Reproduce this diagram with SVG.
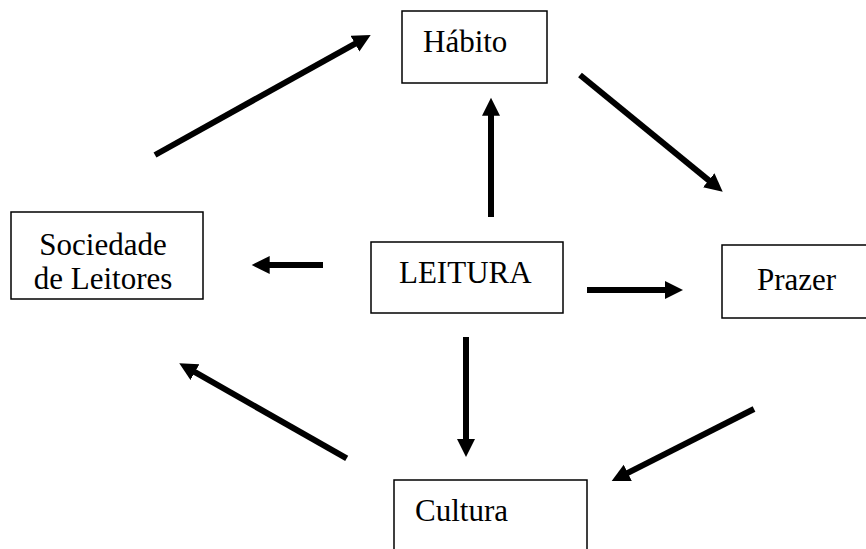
<svg xmlns="http://www.w3.org/2000/svg" width="866" height="549" viewBox="0 0 866 549">
  <style>
    .box { fill: #fff; stroke: #000; stroke-width: 1.5; }
    .lbl { font-family: 'Liberation Serif', Tinos, 'Times New Roman', 'DejaVu Serif', serif; font-size: 31px; fill: #000; }
    .arr { stroke: #000; stroke-width: 6; fill: none; marker-end: url(#head); }
  </style>
  <defs>
    <marker id="head" markerUnits="userSpaceOnUse" markerWidth="20" markerHeight="20" refX="6" refY="9" orient="auto">
      <path d="M0,0 L18,9 L0,18 z" fill="#000"/>
    </marker>
  </defs>
  <rect width="866" height="549" fill="#fff"/>

  <g id="habito">
    <rect class="box" x="402" y="11" width="145" height="72"/>
    <text class="lbl" x="423" y="52">Hábito</text>
  </g>
  <g id="sociedade">
    <rect class="box" x="11" y="212" width="192" height="87"/>
    <text class="lbl" x="103" y="255" text-anchor="middle">Sociedade</text>
    <text class="lbl" x="103" y="289" text-anchor="middle">de Leitores</text>
  </g>
  <g id="leitura">
    <rect class="box" x="371" y="242" width="192" height="71"/>
    <text class="lbl" x="399" y="283">LEITURA</text>
  </g>
  <g id="prazer">
    <rect class="box" x="722" y="245" width="160" height="73"/>
    <text class="lbl" x="757" y="290">Prazer</text>
  </g>
  <g id="cultura">
    <rect class="box" x="394" y="480" width="193" height="90"/>
    <text class="lbl" x="415" y="521">Cultura</text>
  </g>

  <g id="connectors">
    <line class="arr" x1="491" y1="217" x2="491" y2="109.7"/>
    <line class="arr" x1="323" y1="265" x2="263.7" y2="265"/>
    <line class="arr" x1="587" y1="290" x2="671" y2="290"/>
    <line class="arr" x1="466" y1="337" x2="466" y2="445"/>
    <line class="arr" x1="155" y1="155" x2="360.2" y2="40.8"/>
    <line class="arr" x1="580" y1="75" x2="713.4" y2="184.1"/>
    <line class="arr" x1="754" y1="409" x2="622.4" y2="475.6"/>
    <line class="arr" x1="346.7" y1="458.3" x2="189.7" y2="369.2"/>
  </g>
</svg>
